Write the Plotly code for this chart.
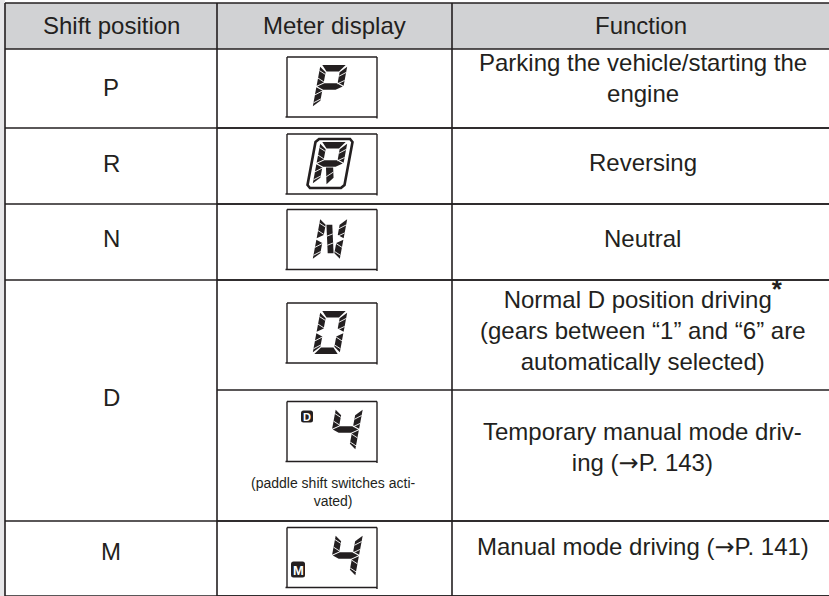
import plotly.graph_objects as go

# ---------------- data ----------------
headers = ["Shift position", "Meter display", "Function"]
shift_positions = ["P", "R", "N", "D", "M"]
meter_glyphs = ["P", "R", "N", "D", "4", "4"]
meter_badges = ["", "", "", "", "D", "M"]
meter_notes = ["", "", "", "", "(paddle shift switches acti-<br>vated)", ""]
ARROW = "<span style=\"font-family:'DejaVu Sans'\">→</span>"
STAR = "<sup><span style=\"font-size:26px\"><b>*</b></span></sup>"
functions = [
    "Parking the vehicle/starting the<br>engine",
    "Reversing",
    "Neutral",
    "Normal D position driving" + STAR + "<br>(gears between “1” and “6” are<br>automatically selected)",
    "Temporary manual mode driv-<br>ing (" + ARROW + "P. 143)",
    "Manual mode driving (" + ARROW + "P. 141)",
]

# ---------------- layout constants ----------------
W_FIG, H_FIG = 829, 596
DARK = "#231f20"
HEAD_BG = "#d1d2d4"
FONT = "Liberation Sans, Arial, sans-serif"
FS = 24
COLS = [5, 217, 452, 829]
HEAD = (3, 49)
SHIFT_ROWS = [(49, 128), (128, 204), (204, 280), (280, 521), (521, 596)]
METER_ROWS = [(49, 128), (128, 204), (204, 280), (280, 390), (390, 521), (521, 596)]
SHIFT_TEXT_Y = [87, 163, 238, 397, 551]
FUNC_TEXT_Y = [78, 162, 238, 324, 447.5, 547]
BOX_CY = [87, 164, 239.5, 333, 431.5, 557.5]
BOX_W, BOX_H = 90, 60
BOX_CX = 332

# segment glyph geometry
GW, GH, GS, GT, GG = 27, 43, 8, 6.5, 0.8

SEGMAP = {"P": "abfeg", "R": "abfegr", "N": "febcn", "D": "abcdef", "4": "fgbc"}


def seg_polys():
    W, H, T, g = GW, GH, GT, GG
    return {
        "a": [(g + 1, 0), (W - g - 1, 0), (W - T - g, T), (T + g, T)],
        "b": [(W, g + 1), (W, H / 2 - g), (W - T, H / 2 - g - T / 2), (W - T, g + T)],
        "c": [(W, H / 2 + g), (W, H - g - 1), (W - T, H - g - T), (W - T, H / 2 + g + T / 2)],
        "d": [(T + g, H - T), (W - T - g, H - T), (W - g - 1, H), (g + 1, H)],
        "e": [(0, H / 2 + g), (T, H / 2 + g + T / 2), (T, H - g - T), (0, H - g - 1)],
        "f": [(0, g + 1), (T, g + T), (T, H / 2 - g - T / 2), (0, H / 2 - g)],
        "g": [(g, H / 2), (T + g, H / 2 - T / 2), (W - T - g, H / 2 - T / 2), (W - g, H / 2),
              (W - T - g, H / 2 + T / 2), (T + g, H / 2 + T / 2)],
        "n": [(T + g, T + g), (T + g + T * 0.9, T + g), (W - T - g, H - T - g), (W - T - g - T * 0.9, H - T - g)],
        "r": [(W * 0.38, H / 2 + T / 2 + g), (W * 0.38 + T * 1.1, H / 2 + T / 2 + g),
              (W - T - g, H - T - g), (W - T - g - T * 0.9, H - g)],
    }


CUTS = {
    "b": [((1, 0.3), (0, 0.5)), ((1, 0.72), (0, 0.9))],
    "c": [((0, 0.2), (1, 0.4)), ((0, 0.62), (1, 0.82))],
    "e": [((1, 0.2), (0, 0.4)), ((1, 0.62), (0, 0.82))],
    "f": [((0, 0.2), (1, 0.4)), ((0, 0.6), (1, 0.8))],
    "n": [((0, 0.4), (1, 0.32)), ((0, 0.72), (1, 0.64))],
    "r": [((0, 0.55), (1, 0.45))],
}


def xf(u, v, cx, cy):
    x0 = cx - (GW + GS) / 2
    y0 = cy - GH / 2
    return x0 + u + GS * (1 - v / GH), y0 + v


def path_of(pts):
    return "M " + " L ".join(f"{x:.2f},{y:.2f}" for x, y in pts) + " Z"


shapes = []
annotations = []


def line(x0, y0, x1, y1, w=1.6, color=DARK):
    shapes.append(dict(type="line", x0=x0, y0=y0, x1=x1, y1=y1, xref="x", yref="y",
                       line=dict(color=color, width=w)))


def lerp(p, q, t):
    return (p[0] + (q[0] - p[0]) * t, p[1] + (q[1] - p[1]) * t)


def draw_glyph(ch, cx, cy):
    polys = seg_polys()
    for s in SEGMAP[ch]:
        pts = [xf(u, v, cx, cy) for u, v in polys[s]]
        shapes.append(dict(type="path", path=path_of(pts), xref="x", yref="y",
                           fillcolor=DARK, line=dict(width=0)))
    for s in SEGMAP[ch]:
        P = polys[s]
        for (a, b) in CUTS.get(s, []):
            if s in ("n", "r"):
                left = (P[0], P[3]); right = (P[1], P[2])
                p1 = lerp(left[0], left[1], a[1])
                p2 = lerp(right[0], right[1], b[1])
            else:
                vs = [p[1] for p in P]
                vmin, vmax = min(vs), max(vs)
                if s in ("e", "f"):
                    ua = 0 if a[0] == 0 else GT
                    ub = 0 if b[0] == 0 else GT
                else:
                    ua = GW - GT if a[0] == 0 else GW
                    ub = GW - GT if b[0] == 0 else GW
                p1 = (ua, vmin + (vmax - vmin) * a[1])
                p2 = (ub, vmin + (vmax - vmin) * b[1])
            x1, y1 = xf(p1[0], p1[1], cx, cy)
            x2, y2 = xf(p2[0], p2[1], cx, cy)
            shapes.append(dict(type="line", x0=x1, y0=y1, x1=x2, y1=y2, xref="x", yref="y",
                               line=dict(color="white", width=0.9)))
    if ch == "R":
        r = 3
        u0, v0, u1, v1 = -5, -3, GW + 5, GH + 3
        pts = [(u0 + r, v0), (u1 - r, v0), (u1, v0 + r), (u1, v1 - r), (u1 - r, v1),
               (u0 + r, v1), (u0, v1 - r), (u0, v0 + r)]
        pts = [xf(u, v, cx, cy) for u, v in pts]
        shapes.append(dict(type="path", path=path_of(pts), xref="x", yref="y",
                           line=dict(color=DARK, width=2.6), fillcolor="rgba(0,0,0,0)"))


def rounded_rect(x0, y0, x1, y1, r):
    return (f"M {x0 + r},{y0} L {x1 - r},{y0} Q {x1},{y0} {x1},{y0 + r} L {x1},{y1 - r} "
            f"Q {x1},{y1} {x1 - r},{y1} L {x0 + r},{y1} Q {x0},{y1} {x0},{y1 - r} "
            f"L {x0},{y0 + r} Q {x0},{y0} {x0 + r},{y0} Z")


# ---------- background pieces ----------
shapes.append(dict(type="rect", x0=0, x1=COLS[0], y0=0, y1=H_FIG, xref="x", yref="y",
                   fillcolor="#e7e7e9", line=dict(width=0), layer="below"))
shapes.append(dict(type="rect", x0=COLS[0], x1=COLS[-1], y0=HEAD[0], y1=HEAD[1], xref="x", yref="y",
                   fillcolor=HEAD_BG, line=dict(width=0), layer="below"))

# ---------- grid lines ----------
line(COLS[0], HEAD[0], COLS[-1], HEAD[0])
line(COLS[0], HEAD[1], COLS[-1], HEAD[1])
for (t, b) in SHIFT_ROWS:
    line(COLS[0], b, COLS[-1], b)
for (t, b) in METER_ROWS:
    line(COLS[1], b, COLS[-1], b)
for xc in COLS[:3]:
    line(xc, HEAD[0], xc, SHIFT_ROWS[-1][1])

# ---------- header text ----------
for i, h in enumerate(headers):
    annotations.append(dict(x=(COLS[i] + COLS[i + 1]) / 2, y=HEAD[0] + 22, text=h, showarrow=False,
                            xref="x", yref="y", xanchor="center", yanchor="middle",
                            font=dict(family=FONT, size=FS, color=DARK)))

# ---------- shift position column ----------
for i, s in enumerate(shift_positions):
    annotations.append(dict(x=(COLS[0] + COLS[1]) / 2, y=SHIFT_TEXT_Y[i], text=s, showarrow=False,
                            xref="x", yref="y", xanchor="center", yanchor="middle",
                            font=dict(family=FONT, size=FS, color=DARK)))

# ---------- meter display column ----------
for i, g in enumerate(meter_glyphs):
    cy = BOX_CY[i]
    bx0, bx1 = BOX_CX - BOX_W / 2, BOX_CX + BOX_W / 2
    by0, by1 = cy - BOX_H / 2, cy + BOX_H / 2
    line(bx0, by0, bx1, by0, w=1.4)
    line(bx0, by0, bx0, by1, w=1.4)
    line(bx0 - 1.5, by1, bx1, by1, w=1.4)
    line(bx1, by0, bx1, by1 + 1.5, w=1.4)
    badge = meter_badges[i]
    if badge == "":
        draw_glyph(g, BOX_CX - 2, cy - 0.5)
    else:
        draw_glyph(g, BOX_CX + 13.5, cy - 2)
        if badge == "D":
            bx, byy, bw, bh = bx0 + 14, by0 + 9, 12, 12
        else:
            bx, byy, bw, bh = bx0 + 4, by0 + 34, 14, 16
        shapes.append(dict(type="path", path=rounded_rect(bx, byy, bx + bw, byy + bh, 2.5),
                           xref="x", yref="y", fillcolor=DARK, line=dict(width=0)))
        annotations.append(dict(x=bx + bw / 2, y=byy + bh / 2 + 0.5, text=f"<b>{badge}</b>", showarrow=False,
                                xref="x", yref="y", xanchor="center", yanchor="middle",
                                font=dict(family=FONT, size=11 if badge == "D" else 13, color="white")))
    if meter_notes[i]:
        annotations.append(dict(x=BOX_CX + 1, y=by1 + 30, text=meter_notes[i], showarrow=False,
                                xref="x", yref="y", xanchor="center", yanchor="middle",
                                font=dict(family=FONT, size=14, color=DARK)))

# ---------- function column ----------
for i, f in enumerate(functions):
    annotations.append(dict(x=(COLS[2] + COLS[3]) / 2 + 2, y=FUNC_TEXT_Y[i], text=f, showarrow=False,
                            xref="x", yref="y", xanchor="center", yanchor="middle",
                            font=dict(family=FONT, size=FS, color=DARK)))

fig = go.Figure()
fig.add_trace(go.Scatter(x=[0, W_FIG], y=[0, H_FIG], mode="markers",
                         marker=dict(opacity=0), hoverinfo="skip", showlegend=False))
fig.update_layout(
    width=W_FIG, height=H_FIG,
    margin=dict(l=0, r=0, t=0, b=0),
    paper_bgcolor="white", plot_bgcolor="white",
    shapes=shapes, annotations=annotations,
    xaxis=dict(range=[0, W_FIG], visible=False, fixedrange=True),
    yaxis=dict(range=[H_FIG, 0], visible=False, fixedrange=True),
    showlegend=False,
)
fig.write_html("out.html", config={"displayModeBar": False},
               post_script="document.body.style.margin='0px';document.body.style.overflow='hidden';")
